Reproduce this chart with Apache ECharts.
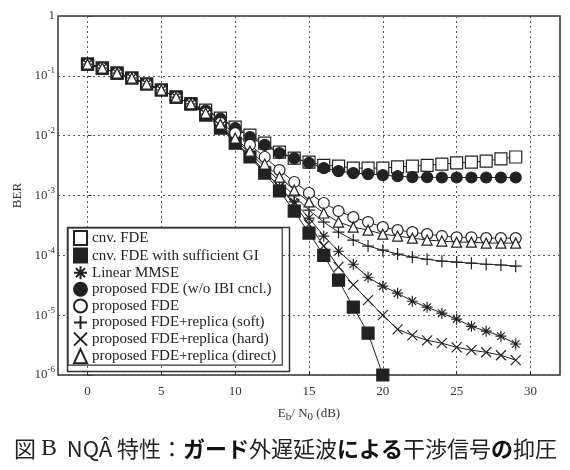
<!DOCTYPE html>
<html>
<head>
<meta charset="utf-8">
<script src="https://cdn.jsdelivr.net/npm/echarts@6/dist/echarts.min.js"></script>
<style>
  html, body { margin: 0; padding: 0; background: #fff; }
  #chart { width: 570px; height: 470px; }
</style>
</head>
<body>
<div id="chart"></div>
<script>
// Eb/N0 (dB)
const ebn0 = [0, 1, 2, 3, 4, 5, 6, 7, 8, 9, 10, 11, 12, 13, 14, 15, 16, 17, 18, 19, 20, 21, 22, 23, 24, 25, 26, 27, 28, 29]

const berCnvFde   = [0.157, 0.135, 0.111, 0.092, 0.073, 0.058, 0.044, 0.034, 0.0268, 0.0197, 0.0139, 0.0102, 0.0075, 0.0053, 0.0042, 0.0036, 0.0032, 0.0031, 0.00287, 0.00287, 0.00287, 0.0030, 0.0031, 0.0032, 0.00335, 0.0035, 0.0036, 0.00376, 0.0041, 0.0044]
const berCnvFdeGi = [0.157, 0.135, 0.111, 0.092, 0.073, 0.058, 0.044, 0.034, 0.0221, 0.0134, 0.0075, 0.0044, 0.00237, 0.00119, 5.5e-4, 2.35e-4, 1.0e-4, 3.85e-5, 1.36e-5, 5.0e-6, 1.0e-6]
const berMmse     = [0.157, 0.135, 0.111, 0.092, 0.073, 0.058, 0.044, 0.034, 0.023, 0.0145, 0.0078, 0.0046, 0.00256, 0.00138, 7.8e-4, 4.2e-4, 2.1e-4, 1.17e-4, 7.1e-5, 4.3e-5, 3.05e-5, 2.33e-5, 1.71e-5, 1.36e-5, 1.08e-5, 8.6e-6, 6.5e-6, 5.4e-6, 4.45e-6, 3.3e-6]
const berNoIbi    = [0.157, 0.135, 0.111, 0.092, 0.073, 0.058, 0.044, 0.034, 0.0262, 0.0192, 0.0134, 0.0095, 0.0070, 0.0051, 0.0042, 0.0035, 0.00287, 0.00256, 0.00237, 0.00228, 0.00219, 0.0021, 0.00203, 0.00202, 0.002, 0.002, 0.002, 0.002, 0.002, 0.002]
const berPropFde  = [0.157, 0.135, 0.111, 0.092, 0.073, 0.058, 0.044, 0.034, 0.0239, 0.0163, 0.0110, 0.0070, 0.0044, 0.00266, 0.00168, 0.0011, 7.5e-4, 5.5e-4, 4.35e-4, 3.6e-4, 2.96e-4, 2.64e-4, 2.44e-4, 2.26e-4, 2.1e-4, 2.0e-4, 2.0e-4, 1.94e-4, 1.94e-4, 1.94e-4]
const berSoft     = [0.157, 0.135, 0.111, 0.092, 0.073, 0.058, 0.044, 0.034, 0.023, 0.015, 0.0084, 0.0051, 0.003, 0.00174, 9.8e-4, 5.7e-4, 3.6e-4, 2.44e-4, 1.8e-4, 1.43e-4, 1.22e-4, 1.05e-4, 9.3e-5, 8.6e-5, 8.0e-5, 7.7e-5, 7.4e-5, 7.1e-5, 6.9e-5, 6.6e-5]
const berHard     = [0.157, 0.135, 0.111, 0.092, 0.073, 0.058, 0.044, 0.034, 0.023, 0.0145, 0.0078, 0.0046, 0.00256, 0.00138, 7.2e-4, 3.3e-4, 1.43e-4, 6.4e-5, 3.2e-5, 1.78e-5, 1.0e-5, 5.8e-6, 4.6e-6, 3.8e-6, 3.4e-6, 2.9e-6, 2.6e-6, 2.4e-6, 2.14e-6, 1.77e-6]
const berDirect   = [0.157, 0.135, 0.111, 0.092, 0.073, 0.058, 0.044, 0.034, 0.0239, 0.0156, 0.0091, 0.0055, 0.00335, 0.00203, 0.00123, 7.8e-4, 5.1e-4, 3.6e-4, 2.96e-4, 2.64e-4, 2.26e-4, 2.1e-4, 1.94e-4, 1.8e-4, 1.73e-4, 1.66e-4, 1.66e-4, 1.6e-4, 1.6e-4, 1.6e-4]

const xTicks = [0, 5, 10, 15, 20, 25, 30]

const INK   = '#222'
const SERIF = '"Liberation Serif", "DejaVu Serif", serif'

const SYM_PLUS  = 'path://M5,0L5,10M0,5L10,5'
const SYM_CROSS = 'path://M0,0L10,10M0,10L10,0'
const SYM_STAR  = 'path://M5,0L5,10M0,5L10,5M1.5,1.5L8.5,8.5M1.5,8.5L8.5,1.5'

const pairs = arr => arr.map((v, i) => [ebn0[i], v])

function mkSeries(name, data, symbol, size, filled) {
  return {
    name, type: 'line', data: pairs(data),
    symbol, symbolSize: size, showSymbol: true,
    lineStyle: { color: INK, width: 1 },
    itemStyle: { color: filled ? INK : '#fff', borderColor: INK, borderWidth: 1.2 },
    emphasis: { disabled: true },
    animation: false
  }
}

const series = [
  mkSeries('cnv. FDE', berCnvFde, 'rect', 12, false),
  mkSeries('cnv. FDE with sufficient GI', berCnvFdeGi, 'rect', 12, true),
  mkSeries('Linear MMSE', berMmse, SYM_STAR, 11, false),
  mkSeries('proposed FDE (w/o IBI cncl.)', berNoIbi, 'circle', 11, true),
  mkSeries('proposed FDE', berPropFde, 'circle', 11, false),
  mkSeries('proposed FDE+replica (soft)', berSoft, SYM_PLUS, 12, false),
  mkSeries('proposed FDE+replica (hard)', berHard, SYM_CROSS, 10, false),
  mkSeries('proposed FDE+replica (direct)', berDirect, 'triangle', 10, false)
]

const chart = echarts.init(document.getElementById('chart'))
chart.setOption({
  backgroundColor: '#fff',
  animation: false,
  title: {
    left: 9, top: 432,
    text: '図 {b|B}  NQÂ 特性：{k|ガード}外遅延波{k|による}干渉信号{k|の}抑圧',
    textStyle: {
      fontFamily: '"Noto Sans CJK JP", sans-serif', fontSize: 22, fontWeight: 'normal', color: '#222',
      rich: {
        b: { fontFamily: SERIF, fontSize: 24, color: '#222' },
        k: { fontFamily: '"Noto Sans CJK JP", sans-serif', fontSize: 22, fontWeight: 'bold', color: '#111' }
      }
    }
  },
  grid: {
    left: 58, right: 10, top: 16, bottom: 95,
    show: true, borderColor: '#333', borderWidth: 1.5
  },
  legend: {
    orient: 'vertical', left: 68, top: 228,
    padding: [2, 6, 1, 5], itemGap: 1.6, itemWidth: 13, itemHeight: 14,
    backgroundColor: '#fff', borderColor: '#333', borderWidth: 1.2,
    textStyle: { fontFamily: SERIF, fontSize: 15, lineHeight: 15, color: '#222' },
    data: series.map(s => ({ name: s.name, icon: s.symbol })),
    selectedMode: false
  },
  graphic: [{
    type: 'rect', left: 65, top: 225, z: 100, silent: true,
    shape: { width: 222, height: 144 },
    style: { fill: 'none', stroke: '#333', lineWidth: 1.5 }
  }],
  xAxis: {
    type: 'value', min: -2, max: 32,
    name: 'E{sub|b}/ N{sub|0} (dB)', nameLocation: 'middle', nameGap: 29,
    nameTextStyle: {
      fontFamily: SERIF, fontSize: 13, color: '#333',
      rich: { sub: { fontFamily: SERIF, fontSize: 11, color: '#333', padding: [8, 0, 0, 0] } }
    },
    axisLine: { show: false },
    axisTick: { show: true, inside: true, length: 4, customValues: xTicks, lineStyle: { color: '#333' } },
    axisLabel: { customValues: xTicks, fontFamily: SERIF, fontSize: 13, color: '#333', margin: 10 },
    splitLine: { show: true, lineStyle: { color: '#555', type: [2, 3], width: 1 } }
  },
  yAxis: {
    type: 'log', logBase: 10, min: 1e-6, max: 1,
    name: 'BER', nameLocation: 'middle', nameGap: 33, nameRotate: 90,
    nameTextStyle: { fontFamily: SERIF, fontSize: 13, color: '#333' },
    axisLine: { show: false },
    axisTick: { show: true, inside: true, length: 4, lineStyle: { color: '#333' } },
    axisLabel: {
      fontFamily: SERIF, fontSize: 13, color: '#333', margin: 3,
      formatter: v => v >= 1 ? '1' : '10{sup|' + Math.round(Math.log10(v)) + '}',
      rich: { sup: { fontFamily: SERIF, fontSize: 9, color: '#333', padding: [0, 0, 10, 0] } }
    },
    splitLine: { show: true, lineStyle: { color: '#555', type: [2, 3], width: 1 } }
  },
  series
})
</script>
</body>
</html>
